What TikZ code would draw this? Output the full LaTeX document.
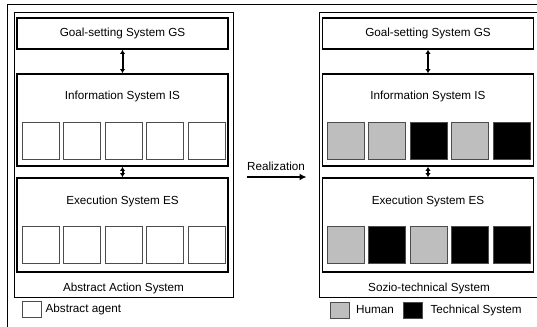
\documentclass[tikz,border=0pt]{standalone}
\usepackage{fontspec}
\setmainfont{Liberation Sans}
\usetikzlibrary{arrows.meta}
\definecolor{humangray}{RGB}{190,190,190}
\tikzset{
  sysbox/.style={draw, line width=1.8pt, minimum width=211pt, inner sep=0pt},
  outerbox/.style={draw, line width=1pt, minimum height=284pt, inner sep=0pt},
  agentbox/.style={draw=black!70, line width=0.8pt, minimum width=37pt, minimum height=37pt, inner sep=0pt},
  legendbox/.style={draw=black!70, line width=0.8pt, minimum width=19pt, minimum height=16pt, inner sep=0pt},
  biarrow/.style={{Latex[length=4pt,width=5.5pt]}-{Latex[length=4pt,width=5.5pt]}, line width=2pt},
  realarrow/.style={-{Latex[length=7pt,width=7pt]}, line width=2.6pt},
  txt/.style={font=\fontsize{11.7}{14}\selectfont}
}

\begin{document}
\begin{tikzpicture}[x=1pt, y=-1pt, every node/.style={txt}]
        \useasboundingbox (0,0) rectangle (537,326);
        \clip (0,0) rectangle (537,326);
        % frame
        \draw[line width=1pt] (537,5) -- (7,5) -- (7,327);

        % abstract action system
        \node[outerbox, minimum width=219pt,
              label={[anchor=center, yshift=9pt]south:Abstract Action System}] (lOuter) at (123.5,155) {};
        \node[sysbox, minimum height=31pt] (lGS) at (122.5,33.5) {Goal-setting System GS};
        \node[sysbox, minimum height=92pt,
              label={[anchor=center, yshift=-23pt]north:Information System IS}] (lIS) at (122.5,120) {};
        \node[sysbox, minimum height=94pt,
              label={[anchor=center, yshift=-24pt]north:Execution System ES}] (lES) at (122.5,225) {};
        \foreach \i in {0,...,4} {
          \node[agentbox] (lISa\i) at (40.5+41.5*\i,140.5) {};
          \node[agentbox] (lESa\i) at (40.5+41.5*\i,245) {};
        }
        \draw[biarrow] (lGS) -- (lIS);
        \draw[biarrow] (lIS) -- (lES);

        % sozio-technical system
        \node[outerbox, minimum width=220pt,
              label={[anchor=center, yshift=9pt]south:Sozio-technical System}] (rOuter) at (429,155) {};
        \node[sysbox, minimum height=31pt] (rGS) at (428,33.5) {Goal-setting System GS};
        \node[sysbox, minimum height=92pt,
              label={[anchor=center, yshift=-23pt]north:Information System IS}] (rIS) at (428,120) {};
        \node[sysbox, minimum height=94pt,
              label={[anchor=center, yshift=-24pt]north:Execution System ES}] (rES) at (428,225) {};
        \foreach \c [count=\i from 0] in {humangray,humangray,black,humangray,black}
          \node[agentbox, fill=\c] (rISa\i) at (345.5+41.5*\i,140.5) {};
        \foreach \c [count=\i from 0] in {humangray,black,humangray,black,black}
          \node[agentbox, fill=\c] (rESa\i) at (345.5+41.5*\i,245) {};
        \draw[biarrow] (rGS) -- (rIS);
        \draw[biarrow] (rIS) -- (rES);

        % realization
        \draw[realarrow, shorten <=13pt, shorten >=12pt] ([yshift=-22pt]lOuter.east) -- ([yshift=-22pt]rOuter.west)
          node[midway, above=2pt] (real) {Realization};

        % legend
        \node[legendbox] (lgAbs) at (31.5,309.5) {};
        \node[anchor=west, inner sep=0pt] (lgAbsT) at ([xshift=4pt]lgAbs.east) {Abstract agent};
        \node[legendbox, fill=humangray] (lgHum) at (340,310) {};
        \node[anchor=west, inner sep=0pt] (lgHumT) at ([xshift=6pt]lgHum.east) {Human};
        \node[legendbox, fill=black] (lgTec) at (412.5,310) {};
        \node[anchor=west, inner sep=0pt] (lgTecT) at ([xshift=8pt]lgTec.east) {Technical System};
      \end{tikzpicture}
\end{document}
